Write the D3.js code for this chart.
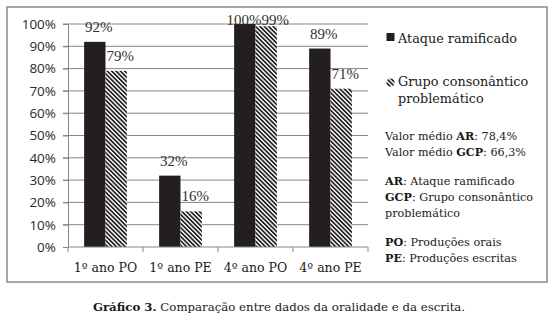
<!DOCTYPE html>
<html lang="pt">
<head>
  <meta charset="UTF-8">
  <title>Gráfico 3</title>
  <script src="https://d3js.org/d3.v7.min.js" charset="utf-8"></script>
  <style>
    body { margin: 0; background: #fff; }
  </style>
</head>
<body>
  <div id="wrapper"></div>
  <script>
    const categories = ['1º ano PO', '1º ano PE', '4º ano PO', '4º ano PE']
    const seriesNames = ['Ataque ramificado', 'Grupo consonântico problemático']
    const ataqueRamificado = [0.92, 0.32, 1.00, 0.89]
    const grupoConsonantico = [0.79, 0.16, 0.99, 0.71]
    const yTicks = [0, 0.1, 0.2, 0.3, 0.4, 0.5, 0.6, 0.7, 0.8, 0.9, 1]
    const notes = [
      [['Valor médio ', false], ['AR', true], [': 78,4%', false]],
      [['Valor médio ', false], ['GCP', true], [': 66,3%', false]],
      null,
      [['AR', true], [': Ataque ramificado', false]],
      [['GCP', true], [': Grupo consonântico', false]],
      [['problemático', false]],
      null,
      [['PO', true], [': Produções orais', false]],
      [['PE', true], [': Produções escritas', false]],
    ]
    const caption = [['Gráfico 3.', true], [' Comparação entre dados da oralidade e da escrita.', false]]

    const serif = '"Liberation Serif", serif'
    const wideSerif = '"DejaVu Serif", serif'
    const sans = '"Open Sans", "Liberation Sans", sans-serif'
    const dark = '#231f20'

    const drawChart = () => {
      const dimensions = {
        width: 560,
        height: 325,
        plot: { left: 68, right: 368, top: 24, bottom: 247 },
      }

      const svg = d3.select('#wrapper')
        .append('svg')
          .attr('width', dimensions.width)
          .attr('height', dimensions.height)

      // padrão hachurado
      const defs = svg.append('defs')
      const pattern = defs.append('pattern')
        .attr('id', 'hatch')
        .attr('patternUnits', 'userSpaceOnUse')
        .attr('width', 3.1)
        .attr('height', 3.1)
        .attr('patternTransform', 'rotate(-45)')
      pattern.append('rect').attr('width', 3.1).attr('height', 3.1).attr('fill', '#fff')
      pattern.append('rect').attr('width', 1.7).attr('height', 3.1).attr('fill', dark)

      // moldura
      svg.append('rect')
        .attr('x', 7)
        .attr('y', 7)
        .attr('width', 540)
        .attr('height', 275)
        .attr('fill', 'none')
        .attr('stroke', '#8a8a8a')
        .attr('stroke-width', 1.5)

      const p = dimensions.plot
      const yScale = d3.scaleLinear().domain([0, 1]).range([p.bottom, p.top])
      const xScale = d3.scaleBand()
        .domain(categories)
        .range([p.left, p.right])
        .paddingInner(0.43)
        .paddingOuter(0.215)
      const xSub = d3.scaleBand()
        .domain(d3.range(seriesNames.length))
        .range([0, xScale.bandwidth()])

      // grade
      svg.append('g')
        .selectAll('line')
        .data(yTicks.filter(d => d > 0))
        .join('line')
          .attr('x1', p.left - 5)
          .attr('x2', p.right)
          .attr('y1', d => yScale(d))
          .attr('y2', d => yScale(d))
          .attr('stroke', '#868686')
          .attr('stroke-width', 1)

      // eixo y
      const yAxis = svg.append('g')
        .attr('transform', `translate(${p.left},0)`)
        .call(d3.axisLeft(yScale).tickValues(yTicks).tickFormat(d3.format('.0%')).tickSize(5).tickPadding(7))
      yAxis.select('.domain').attr('stroke', '#868686')
      yAxis.selectAll('.tick line').attr('stroke', '#868686')
      yAxis.selectAll('text')
        .attr('font-family', sans)
        .attr('font-size', 13.5)
        .attr('fill', '#2a2a2a')

      // barras
      const seriesValues = [ataqueRamificado, grupoConsonantico]
      const fills = [dark, 'url(#hatch)']
      const bars = seriesValues.flatMap((vals, s) => vals.map((v, i) => ({ s, cat: categories[i], v })))

      svg.append('g')
        .selectAll('rect')
        .data(bars)
        .join('rect')
          .attr('x', d => xScale(d.cat) + xSub(d.s))
          .attr('width', xSub.bandwidth())
          .attr('y', d => yScale(d.v))
          .attr('height', d => yScale(0) - yScale(d.v))
          .attr('fill', d => fills[d.s])

      // eixo x
      const xAxisG = svg.append('g')
        .attr('transform', `translate(0,${p.bottom})`)
      xAxisG.append('line')
        .attr('x1', p.left).attr('x2', p.right)
        .attr('stroke', '#868686')
      const boundaries = categories.map(c => xScale(c) - xScale.step() * xScale.paddingInner() / 2)
        .concat([p.right])
      boundaries[0] = p.left
      xAxisG.selectAll('.xtick')
        .data(boundaries)
        .join('line')
          .attr('class', 'xtick')
          .attr('x1', d => d).attr('x2', d => d)
          .attr('y1', 0).attr('y2', 5)
          .attr('stroke', '#868686')
      xAxisG.selectAll('text')
        .data(categories)
        .join('text')
          .attr('x', d => xScale(d) + xScale.bandwidth() / 2)
          .attr('y', 25)
          .attr('text-anchor', 'middle')
          .attr('font-family', wideSerif)
          .attr('font-size', 12.5)
          .attr('fill', '#1a1a1a')
          .text(d => d)

      // rótulos de dados
      const labels = svg.append('g')
        .selectAll('text')
        .data(bars)
        .join('text')
          .attr('x', d => xScale(d.cat) + xSub(d.s) + xSub.bandwidth() / 2 + 4)
          .attr('y', d => Math.max(yScale(d.v) - 10, p.top + 1))
          .attr('text-anchor', 'middle')
          .attr('font-family', serif)
          .attr('font-size', 15)
          .attr('fill', '#333')
          .text(d => d3.format('.0%')(d.v))

      // afastar rótulos que se sobrepõem
      const nodes = labels.nodes()
      categories.forEach((c, i) => {
        const a = nodes[i]
        const b = nodes[i + categories.length]
        const ba = a.getBBox()
        const bb = b.getBBox()
        const overlapY = Math.abs(+a.getAttribute('y') - +b.getAttribute('y')) < ba.height * 0.8
        const overlapX = ba.x + ba.width - bb.x
        if (overlapY && overlapX > 0) {
          a.setAttribute('x', +a.getAttribute('x') - overlapX / 2)
          b.setAttribute('x', +b.getAttribute('x') + overlapX / 2)
        }
      })

      // legenda
      const legend = svg.append('g').attr('font-family', wideSerif).attr('fill', '#1a1a1a')
      legend.append('rect')
        .attr('x', 386.5).attr('y', 33).attr('width', 8).attr('height', 8)
        .attr('fill', dark)
      legend.append('text')
        .attr('x', 398).attr('y', 42.5)
        .attr('font-size', 12.8)
        .text(seriesNames[0])
      legend.append('circle')
        .attr('cx', 390.5).attr('cy', 82.5).attr('r', 4)
        .attr('fill', 'url(#hatch)')
      const gcpWords = seriesNames[1].split(' ')
      legend.append('text')
        .attr('x', 398).attr('y', 86)
        .attr('font-size', 12.8)
        .selectAll('tspan')
        .data([gcpWords.slice(0, 2).join(' '), gcpWords[2]])
        .join('tspan')
          .attr('x', 398)
          .attr('dy', (d, i) => i === 0 ? 0 : 17)
          .text(d => d)

      // notas
      let noteY = 140
      notes.forEach(line => {
        if (line) {
          const t = legend.append('text')
            .attr('x', 385).attr('y', noteY)
            .attr('font-size', 11.2)
          t.selectAll('tspan')
            .data(line)
            .join('tspan')
              .attr('font-weight', d => d[1] ? 'bold' : 'normal')
              .text(d => d[0])
          noteY += 15.8
        } else {
          noteY += 13.5
        }
      })

      // legenda do gráfico
      svg.append('text')
        .attr('x', 279).attr('y', 311)
        .attr('text-anchor', 'middle')
        .attr('font-family', wideSerif)
        .attr('font-size', 11.75)
        .attr('fill', '#1a1a1a')
        .selectAll('tspan')
        .data(caption)
        .join('tspan')
          .attr('font-weight', d => d[1] ? 'bold' : 'normal')
          .text(d => d[0])
    }

    drawChart()
  </script>
</body>
</html>
